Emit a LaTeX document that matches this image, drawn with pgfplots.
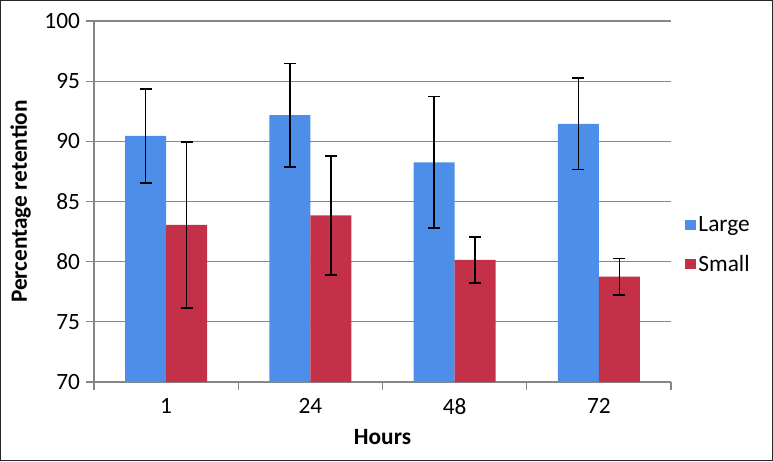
\documentclass[border=0pt]{standalone}
\usepackage{pgfplots}
\pgfplotsset{compat=1.18}
\usepackage{fontspec}
\setmainfont{Carlito}
\definecolor{barblue}{RGB}{77,143,232}
\definecolor{barred}{RGB}{196,48,72}
\definecolor{axgray}{RGB}{134,134,134}
\begin{document}
\begin{tikzpicture}
\draw[line width=1pt, black!85] (0.5pt,0.5pt) rectangle (579.25pt,345.25pt);
\begin{axis}[
  at={(70.5pt,59.25pt)}, anchor=south west,
  scale only axis, width=432.75pt, height=270.75pt,
  ybar, bar width=0.284,
  xmin=-0.5, xmax=3.5, ymin=70, ymax=100,
  ytick={70,75,...,100},
  xtick={0,1,2,3}, xticklabels={1,24,48,72},
  minor xtick={-0.5,0.5,1.5,2.5,3.5},
  major x tick style={draw=none},
  minor x tick style={axgray, line width=0.8pt},
  minor tick length=6pt,
  major tick length=6pt,
  tick align=outside,
  y tick style={axgray, line width=0.8pt},
  axis line style={axgray, line width=0.8pt},
  axis x line*=bottom, axis y line*=left,
  ymajorgrids, grid style={axgray, line width=0.8pt},
  /pgf/number format/assume math mode=true,
  tick label style={font=\fontsize{17.5}{21}\selectfont},
  yticklabel style={xshift=-1pt},
  xticklabel style={yshift=-3pt},
  xlabel={\textbf{Hours}}, ylabel={\textbf{Percentage retention}},
  label style={font=\fontsize{17.5}{21}\selectfont},
  xlabel style={at={(axis description cs:0.5,-0.152)}, anchor=center},
  ylabel style={at={(axis description cs:-0.127,0.5)}, anchor=center},
  legend style={at={(1.024,0.38)}, anchor=west, draw=none, fill=none,
    font=\fontsize{17.5}{21}\selectfont, row sep=12pt,
    legend cell align=left, inner sep=0pt},
  legend image code/.code={\fill[#1] (0pt,-4pt) rectangle (8pt,4pt);},
  error bars/error bar style={black, line width=1.2pt},
  error bars/error mark options={rotate=90, mark size=4.5pt, line width=1.2pt, black},
]
\addplot[fill=barblue, draw=none, bar shift=-0.142,
  error bars/.cd, y dir=both, y explicit]
  coordinates {(0,90.45) +- (0,3.9) (1,92.17) +- (0,4.3) (2,88.26) +- (0,5.45) (3,91.45) +- (0,3.8)};
\addlegendentry{Large}
\addplot[fill=barred, draw=none, bar shift=0.142,
  error bars/.cd, y dir=both, y explicit]
  coordinates {(0,83.05) +- (0,6.9) (1,83.85) +- (0,4.95) (2,80.15) +- (0,1.9) (3,78.75) +- (0,1.5)};
\addlegendentry{Small}
\end{axis}
\end{tikzpicture}
\end{document}
